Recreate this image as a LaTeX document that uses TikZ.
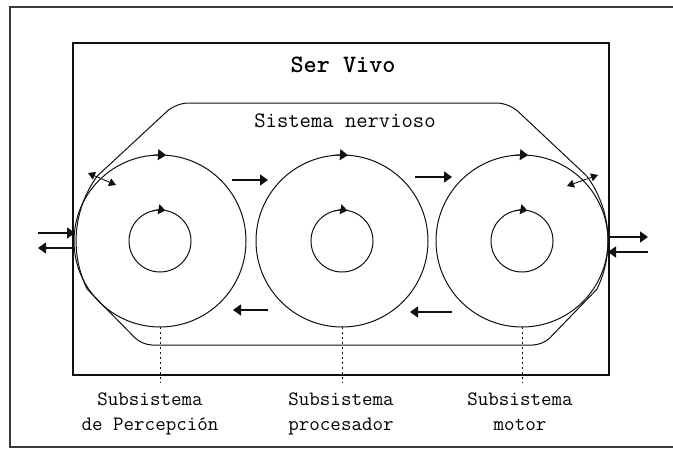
\documentclass[tikz,border=0pt]{standalone}
\usepackage{fontspec}
\usetikzlibrary{arrows.meta,calc,positioning}
\definecolor{SVInk}{HTML}{111111}
\definecolor{SVFrame}{HTML}{3A3A3A}
\tikzset{
  ring/.style={draw=SVInk, line width=1pt},
  flow/.style={draw=SVInk, line width=1.4pt, -{Triangle[length=8pt,width=11pt]}},
  crossing/.style={draw=SVInk, line width=0.9pt,
    {Triangle[length=7pt,width=8pt]}-{Triangle[length=7pt,width=8pt]}},
  guide/.style={draw=SVInk, line width=1pt, dash pattern=on 2pt off 3pt},
  caption/.style={font=\ttfamily\fontsize{20.4}{25}\selectfont, align=center, inner sep=3pt}
}
\newcommand{\subsistema}[2]{%
  \node[circle, ring, minimum size=172, inner sep=0pt, outer sep=0pt] (#1) at (#2,241) {};
  \draw[ring] (#1.center) circle (31);
  \draw[ring, -{Triangle[length=8pt,width=11pt]}] ($(#1.center)+(-97:86)$) arc (-97:-86:86);
  \draw[ring, -{Triangle[length=7pt,width=10pt]}] ($(#1.center)+(-104:31)$) arc (-104:-80:31);
}

\begin{document}
\begin{tikzpicture}[x=1pt,y=-1pt]
  \useasboundingbox (0,0) rectangle (673,450);
  \fill[white] (0,0) rectangle (673,450);
  \draw[SVFrame, line width=2pt] (673,7) -- (10,7) -- (10,447) -- (673,447);
  \draw[SVInk, line width=1.5pt] (73,43) rectangle (609,375);

  \node[anchor=base, font=\ttfamily\bfseries\fontsize{25}{28}\selectfont] (servivo) at (343,72) {Ser Vivo};
  \node[anchor=base, font=\ttfamily\fontsize{22}{24}\selectfont] (nervioso) at (345,127) {Sistema nervioso};

  \draw[ring] (97.3,176) arc[start angle=216.2, end angle=154, radius=110]
    [rounded corners=10] -- (142,345) -- (543,345) [sharp corners] -- (596.9,289.2)
    arc[start angle=26, end angle=-36.2, radius=110]
    [rounded corners=12] -- (509,103) -- (176,103) [sharp corners] -- cycle;

  \subsistema{per}{160}
  \subsistema{pro}{342}
  \subsistema{mot}{522}

  \coordinate (bxL1) at (88,173);  \coordinate (bxL2) at (116,185);
  \coordinate (bxR1) at (567,186); \coordinate (bxR2) at (598,175);
  \draw[crossing] (bxL1) -- (bxL2);
  \draw[crossing] (bxR1) -- (bxR2);

  \coordinate (inA) at (38,233);  \coordinate (inB) at (75,233);
  \coordinate (outA) at (75,248); \coordinate (outB) at (38,248);
  \coordinate (inC) at (648,252); \coordinate (inD) at (608,252);
  \coordinate (outC) at (608,237); \coordinate (outD) at (648,237);
  \draw[flow] (inA) -- (inB);
  \draw[flow] (outA) -- (outB);
  \draw[flow] (outC) -- (outD);
  \draw[flow] (inC) -- (inD);

  \coordinate (t1a) at (232,180); \coordinate (t1b) at (268,180);
  \coordinate (t2a) at (415,177); \coordinate (t2b) at (452,177);
  \coordinate (b1a) at (268,310); \coordinate (b1b) at (233,310);
  \coordinate (b2a) at (452,312); \coordinate (b2b) at (410,312);
  \draw[flow] (t1a) -- (t1b);
  \draw[flow] (t2a) -- (t2b);
  \draw[flow] (b1a) -- (b1b);
  \draw[flow] (b2a) -- (b2b);

  \node[caption, anchor=north] (lblper) at (150,390) {Subsistema\\de Percepción};
  \node[caption, anchor=north] (lblpro) at (341,390) {Subsistema\\procesador};
  \node[caption, anchor=north] (lblmot) at (520,390) {Subsistema\\motor};
  \draw[guide, shorten >=7pt] (per.south) -- (per.south |- lblper.north);
  \draw[guide, shorten >=7pt] (pro.south) -- (pro.south |- lblpro.north);
  \draw[guide, shorten >=7pt] (mot.south) -- (mot.south |- lblmot.north);
\end{tikzpicture}
\end{document}
